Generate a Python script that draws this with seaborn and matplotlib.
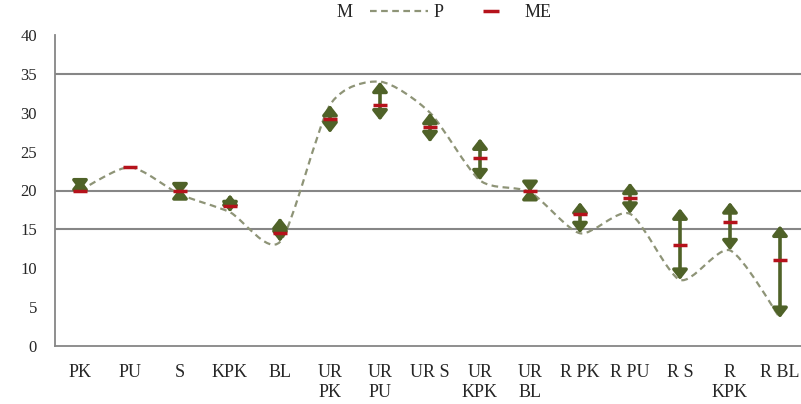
import numpy as np
import pandas as pd
import matplotlib
matplotlib.use("Agg")
import matplotlib.pyplot as plt
from matplotlib.path import Path
from matplotlib.patches import PathPatch
from matplotlib.lines import Line2D
import seaborn as sns

# Data
categories = ["PK", "PU", "S", "KPK", "BL", "UR\nPK", "UR\nPU", "UR S", "UR\nKPK", "UR\nBL",
              "R PK", "R PU", "R S", "R\nKPK", "R BL"]
m_vals  = [21.5, 23, 20.3, 19.5, 16.5, 27.4, 29, 26.2, 26.7, 20.2, 18.5, 21, 17.7, 18.5, 15.5]
p_vals  = [20, 23, 19.5, 17.2, 13.4, 31, 34, 30, 21.3, 19.8, 14.5, 17, 8.5, 12.3, 3.6]
me_vals = [20, 23, 20, 18, 14.5, 29.2, 31, 28.2, 24.2, 20, 17, 19, 13, 16, 11]
y_ticks = list(range(0, 45, 5))
grid_levels = [15, 20, 35]

GREEN = "#4F6228"
RED = "#B5121B"
DASH = "#8E9477"
GRAY = "#868686"

sns.set_style("white")
plt.rcParams["font.family"] = ["Liberation Serif", "DejaVu Serif"]

df = pd.DataFrame({"cat": categories, "x": np.arange(len(categories)),
                   "M": m_vals, "P": p_vals, "ME": me_vals})

fig = plt.figure(figsize=(8.01, 4.04), dpi=100)
ax = fig.add_axes([55 / 801, 58 / 404, 750 / 801, 311 / 404])

for lvl in grid_levels:
    ax.axhline(lvl, color=GRAY, lw=1.5, zorder=1)

# smoothed P line (Bezier through the points, like Excel's smoothed line)
pts = df[["x", "P"]].to_numpy(dtype=float)
verts = [pts[0]]
codes = [Path.MOVETO]
n = len(pts)
for i in range(n - 1):
    p0 = pts[max(i - 1, 0)]
    p1 = pts[i]
    p2 = pts[i + 1]
    p3 = pts[min(i + 2, n - 1)]
    c1 = p1 + (p2 - p0) / 8.0
    c2 = p2 - (p3 - p1) / 8.0
    verts += [c1, c2, p2]
    codes += [Path.CURVE4] * 3
ax.add_patch(PathPatch(Path(verts, codes), fill=False, edgecolor=DASH, lw=1.6,
                       linestyle=(0, (3, 2)), zorder=2))

# high-low arrows between P and M
for _, r in df.iterrows():
    if abs(r["M"] - r["P"]) < 0.05:
        continue
    ax.annotate("", xy=(r["x"], r["M"]), xytext=(r["x"], r["P"]),
                arrowprops=dict(arrowstyle="<|-|>,head_length=0.45,head_width=0.35",
                                color=GREEN, lw=2.6, shrinkA=0, shrinkB=0,
                                mutation_scale=12.5), zorder=3)

sns.scatterplot(data=df, x="x", y="ME", marker="_", s=110, color=RED,
                linewidth=2.5, ax=ax, zorder=4, legend=False)

ax.set_xlim(-0.5, len(categories) - 0.5)
ax.set_ylim(0, 40)
ax.set_yticks(y_ticks)
ax.set_yticklabels([str(t) for t in y_ticks], fontsize=12)
ax.set_xticks(df["x"])
ax.set_xticklabels(categories, fontsize=13, va="top", linespacing=1.2)
ax.set_xticks(np.arange(0.5, len(categories) - 0.5, 1), minor=True)
ax.tick_params(axis="x", which="major", length=0, pad=13)
ax.tick_params(axis="x", which="minor", length=5, color="#BBBBBB", direction="out")
ax.tick_params(axis="y", length=5, color=GRAY, direction="out", pad=8)
ax.set_xlabel("")
ax.set_ylabel("")
for s in ["top", "right"]:
    ax.spines[s].set_visible(False)
for s in ["left", "bottom"]:
    ax.spines[s].set_color(GRAY)
    ax.spines[s].set_linewidth(1.3)

handles = [Line2D([], [], color="none"),
           Line2D([], [], color=DASH, lw=1.6, linestyle=(0, (3, 2))),
           Line2D([], [], color=RED, marker="_", markersize=11, markeredgewidth=2.5, linestyle="none")]
fig.legend(handles, ["M", "P", "ME"], loc="upper center", ncol=3, frameon=False,
           bbox_to_anchor=(0.515, 1.03), fontsize=13, handlelength=3.2, columnspacing=1.0,
           handletextpad=0.3)

fig.savefig("out.png", dpi=100)
